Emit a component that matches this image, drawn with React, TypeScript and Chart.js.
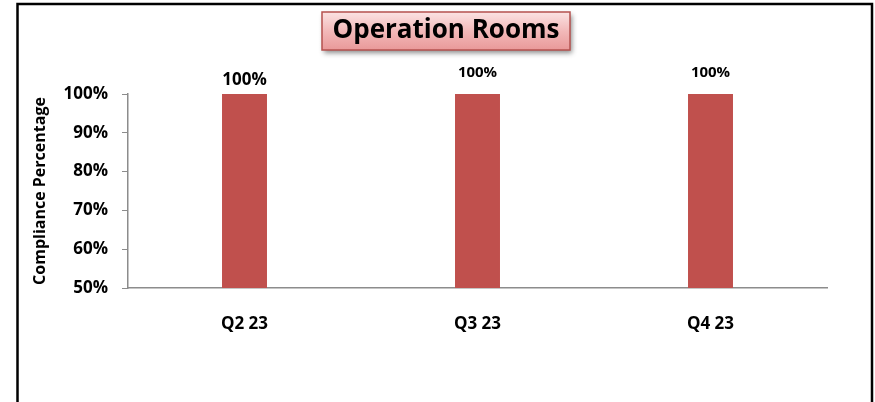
import React, { useEffect, useRef } from "react";
import { Chart, registerables } from "chart.js";

Chart.register(...registerables);

const categories = ["Q2 23", "Q3 23", "Q4 23"];
const compliance = [100, 100, 100];
const yTicks = [50, 60, 70, 80, 90, 100];
const chartTitle = "Operation Rooms";
const yAxisTitle = "Compliance Percentage";

const FONT = "'Open Sans', Lato, sans-serif";

const framePlugin = {
  id: "frame",
  beforeDraw(chart: any) {
    const ctx = chart.ctx;
    ctx.save();
    ctx.fillStyle = "#ffffff";
    ctx.fillRect(0, 0, chart.width, chart.height);
    ctx.strokeStyle = "#000000";
    ctx.lineWidth = 2.5;
    ctx.strokeRect(17.5, 4, 854.5, 420);
    ctx.restore();
  },
  afterDraw(chart: any) {
    const ctx = chart.ctx;
    const x = 322, y = 12, w = 248, h = 38;
    ctx.save();
    ctx.shadowColor = "rgba(0,0,0,0.45)";
    ctx.shadowBlur = 5;
    ctx.shadowOffsetX = 2;
    ctx.shadowOffsetY = 3;
    const g = ctx.createLinearGradient(0, y, 0, y + h);
    g.addColorStop(0, "#fbe3e3");
    g.addColorStop(0.5, "#f2b9b9");
    g.addColorStop(1, "#e99999");
    ctx.fillStyle = g;
    ctx.fillRect(x, y, w, h);
    ctx.restore();
    ctx.save();
    ctx.strokeStyle = "#b5524f";
    ctx.lineWidth = 1.5;
    ctx.strokeRect(x, y, w, h);
    ctx.fillStyle = "#000000";
    ctx.font = `bold 26px ${FONT}`;
    ctx.textAlign = "center";
    ctx.textBaseline = "middle";
    ctx.fillText(chartTitle, x + w / 2, y + h / 2);
    ctx.restore();

    const meta = chart.getDatasetMeta(0);
    ctx.save();
    ctx.fillStyle = "#000000";
    ctx.textAlign = "center";
    ctx.textBaseline = "middle";
    meta.data.forEach((bar: any, i: number) => {
      const v = compliance[i];
      ctx.font = i === 0 ? `bold 17px ${FONT}` : `bold 15px ${FONT}`;
      const off = i === 0 ? 14 : 21;
      ctx.fillText(`${v}%`, bar.x, bar.y - off);
    });
    ctx.restore();
  },
};

export default function App() {
  const ref = useRef<HTMLCanvasElement | null>(null);
  useEffect(() => {
    if (!ref.current) return;
    const chart = new Chart(ref.current, {
      type: "bar",
      data: {
        labels: categories,
        datasets: [
          {
            data: compliance,
            backgroundColor: "#c0504d",
            barPercentage: 0.193,
            categoryPercentage: 1,
          },
        ],
      },
      options: {
        animation: false,
        responsive: false,
        maintainAspectRatio: false,
        layout: { padding: { left: 17, top: 94, right: 48, bottom: 64 } },
        plugins: {
          legend: { display: false },
          title: { display: false },
          tooltip: { enabled: false },
        },
        scales: {
          x: {
            grid: { display: false, drawTicks: false },
            border: { color: "#8c8c8c", width: 1.5 },
            ticks: {
              color: "#000",
              font: { family: FONT, size: 17, weight: "bold" },
              padding: 26,
            },
            afterFit(s: any) {
              s.height = 50;
            },
          },
          y: {
            min: 50,
            max: 100,
            afterBuildTicks(s: any) {
              s.ticks = yTicks.map((v) => ({ value: v }));
            },
            grid: { display: true, drawOnChartArea: false, tickLength: 6, color: "#8c8c8c" },
            border: { color: "#8c8c8c", width: 1.5 },
            ticks: {
              color: "#000",
              font: { family: FONT, size: 17, weight: "bold" },
              padding: 14,
              callback: (v: any) => `${v}%`,
            },
            title: {
              display: true,
              text: yAxisTitle,
              color: "#000",
              font: { family: FONT, size: 16, weight: "bold" },
              padding: { top: 14, bottom: 0 },
            },
            afterFit(s: any) {
              s.width = 111;
            },
          },
        },
      },
      plugins: [framePlugin],
    });
    return () => chart.destroy();
  }, []);
  return (
    <div style={{ position: "fixed", left: 0, top: 0, width: 875, height: 402 }}>
      <canvas ref={ref} width={875} height={402} style={{ display: "block" }} />
    </div>
  );
}
